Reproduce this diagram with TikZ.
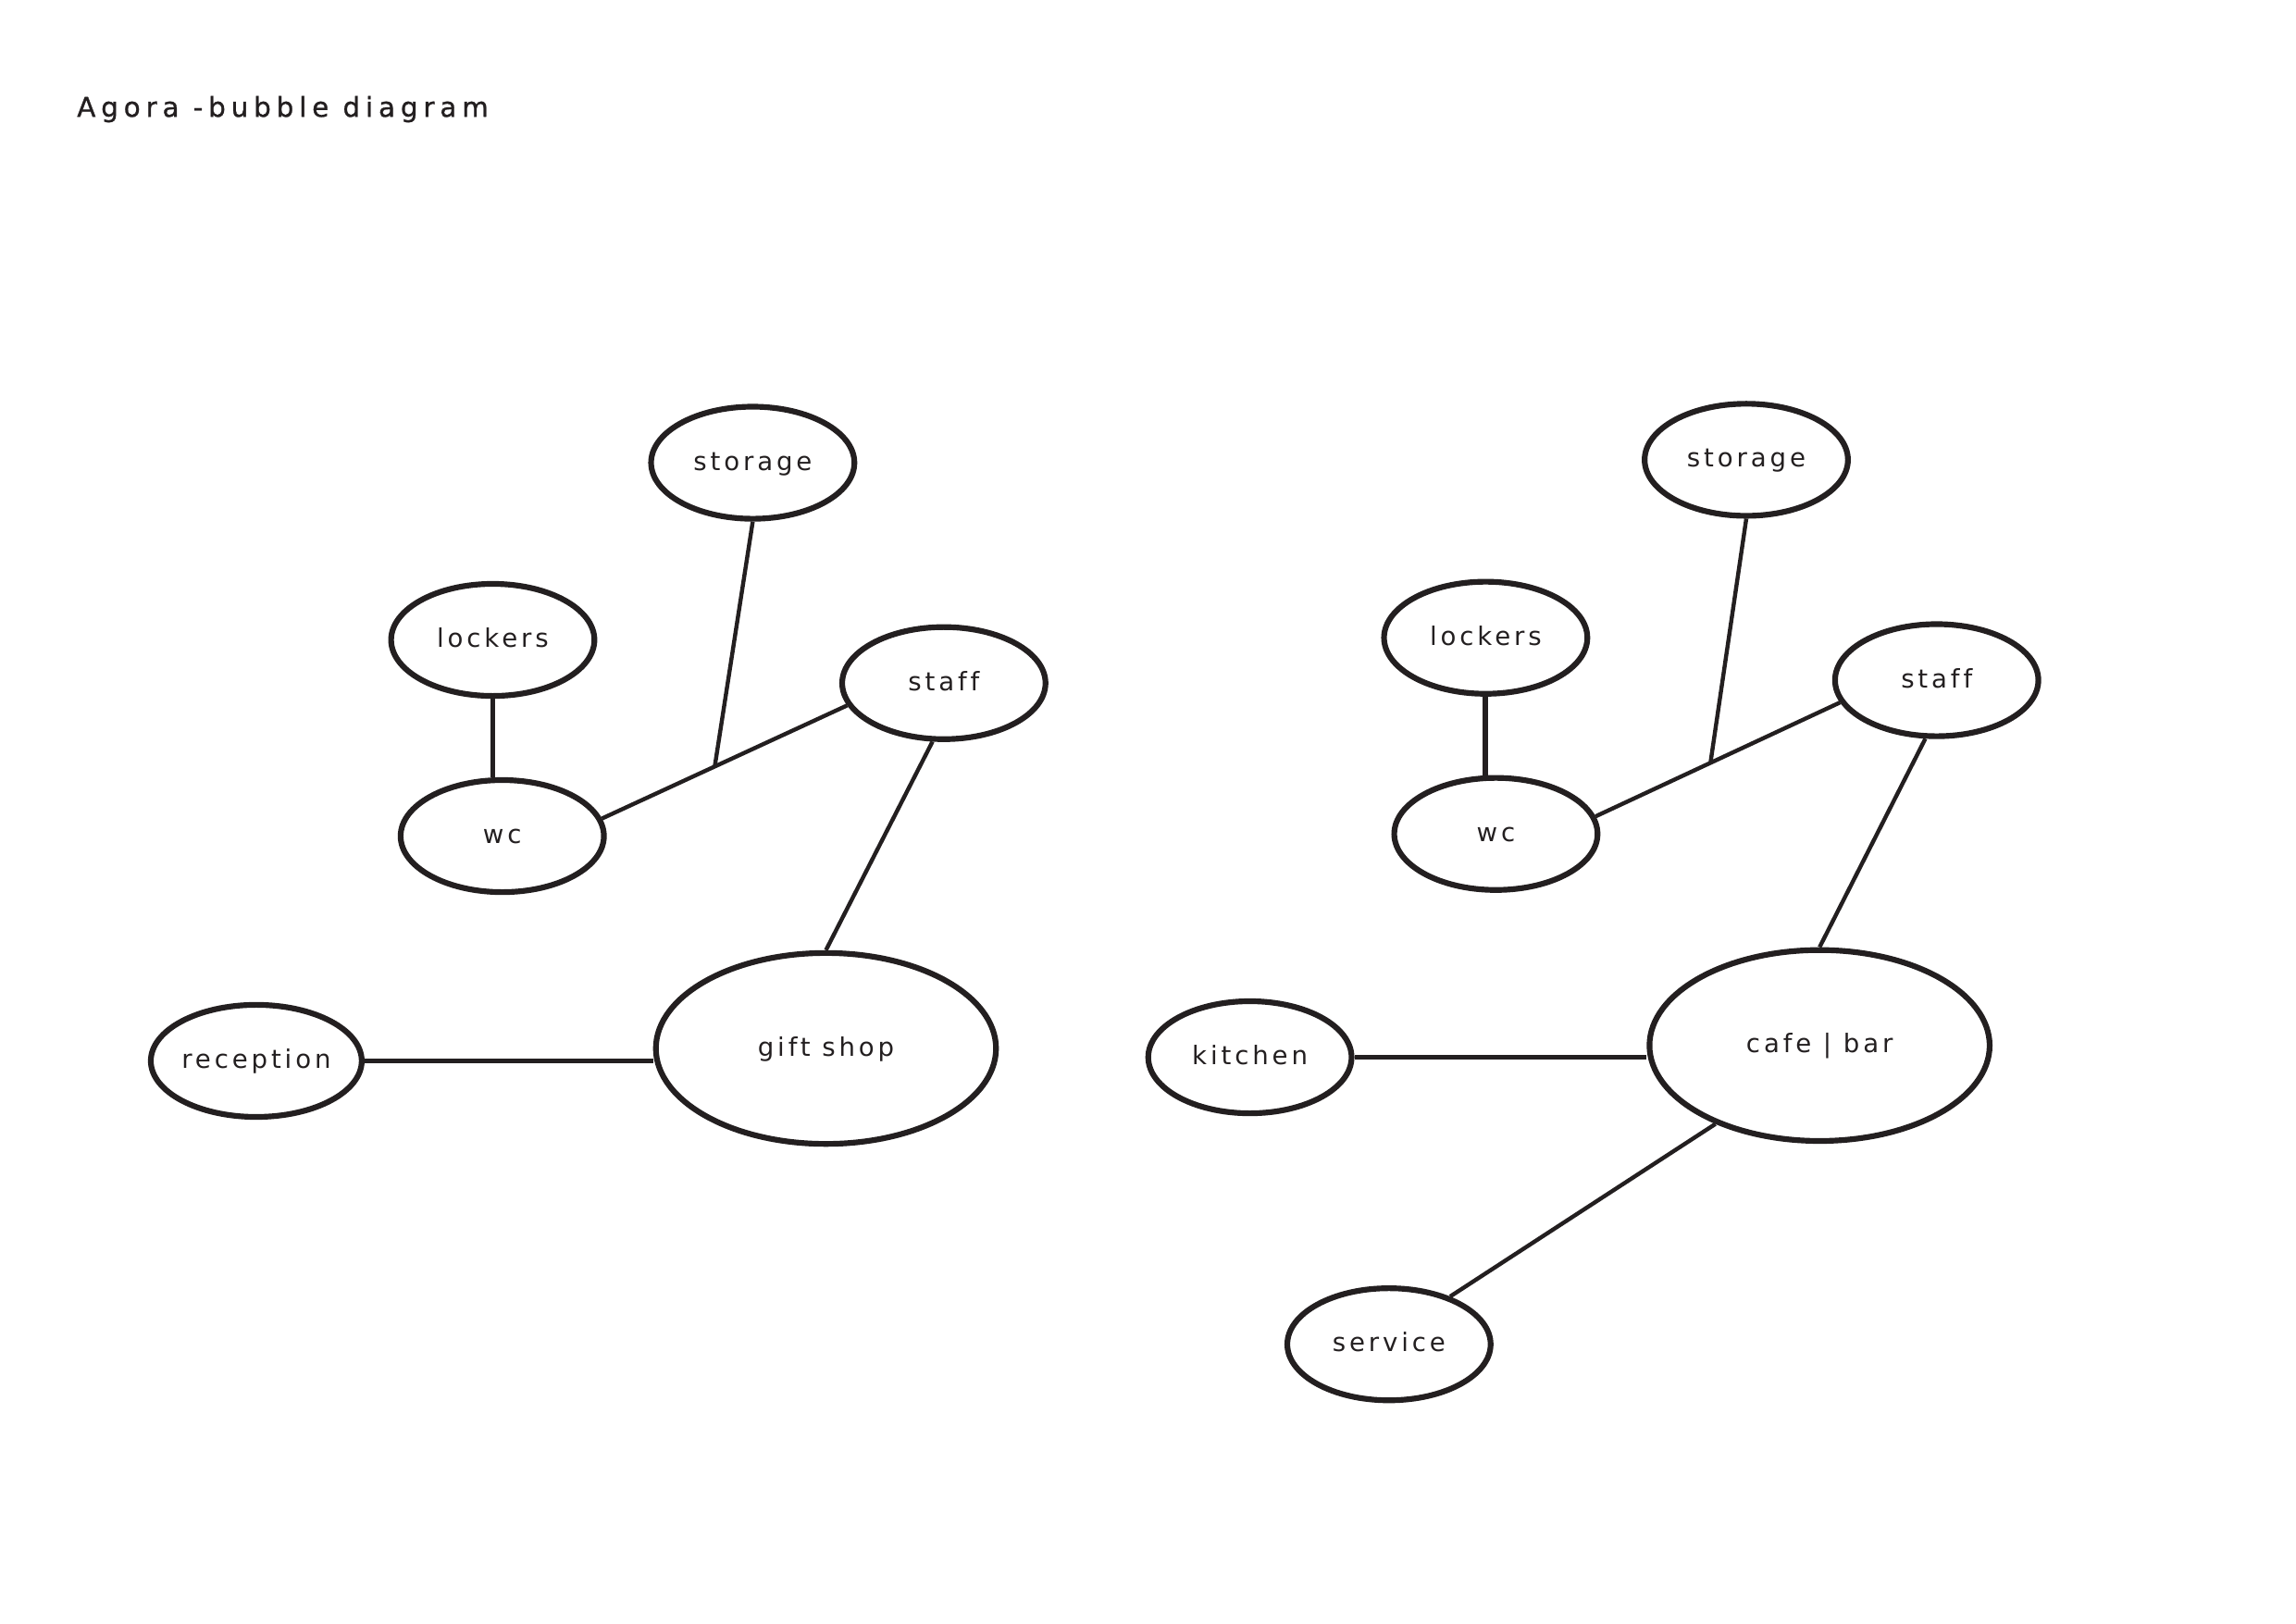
\documentclass[tikz,border=0pt]{standalone}
\usepackage{fontspec}
\usepackage{tikz}
\usetikzlibrary{
    shapes.geometric,
    calc
}
\newfontfamily\bubblefont[LetterSpace=14, Ligatures=NoCommon]{DejaVu Sans}
\newfontfamily\headfont[LetterSpace=20, Ligatures=NoCommon, FakeBold=1]{DejaVu Sans}
\definecolor{Ink}{RGB}{35,31,32}

\begin{document}
\begin{tikzpicture}[
    bubble/.style={ellipse, draw=Ink, line width=2.1pt, inner sep=0pt,
        minimum width=2.63cm, minimum height=1.45cm,
        text height=0.55em, text depth=0pt,
        font=\bubblefont\fontsize{9.4}{11}\selectfont, text=Ink},
    bigbubble/.style={bubble, minimum width=4.40cm, minimum height=2.47cm,
        yshift=-0.05cm},
    link/.style={draw=Ink, line width=1.5pt},
    stem/.style={draw=Ink, line width=2pt}
]

\useasboundingbox (0,0) rectangle (29.7,-21.0);

\node[anchor=base west, inner sep=0pt, text=Ink,
    font=\headfont\fontsize{10}{12}\selectfont]
    (title) at (0.99,-1.51) {Agora -bubble diagram};

\node[bubble] (storageL) at (9.737,-5.986) {storage};
\node[bubble] (lockersL) at (6.374,-8.278) {lockers};
\node[bubble] (staffL) at (12.209,-8.837) {staff};
\node[bubble] (wcL) at (6.497,-10.816) {wc};
\node[bubble] (receptionL) at (3.315,-13.724) {reception};
\node[bigbubble] (giftL) at (10.684,-13.513) {gift shop};

\node[bubble] (storageR) at (22.589,-5.948) {storage};
\node[bubble] (lockersR) at (19.218,-8.250) {lockers};
\node[bubble] (staffR) at (25.052,-8.799) {staff};
\node[bubble] (wcR) at (19.350,-10.788) {wc};
\node[bubble] (kitchenR) at (16.168,-13.677) {kitchen};
\node[bigbubble] (cafeR) at (23.537,-13.475) {cafe | bar};
\node[bubble] (serviceR) at (17.967,-17.390) {service};

\coordinate (jointL) at ($(wcL.10.7)!0.46!(staffL.193.1)$);
\coordinate (jointR) at ($(wcR.10.7)!0.47!(staffR.193.1)$);

\draw[stem] (lockersL.south) -- (lockersL.south |- wcL.north);
\draw[link] (wcL.10.7) -- (staffL.193.1);
\draw[link] (storageL.south) -- (jointL);
\draw[link] (staffL.259) -- (giftL.north);
\draw[link] (receptionL.east) -- (receptionL.east -| giftL.west);

\draw[stem] (lockersR.south) -- (lockersR.south |- wcR.north);
\draw[link] (wcR.10.7) -- (staffR.193.1);
\draw[link] (storageR.south) -- (jointR);
\draw[link] (staffR.259) -- (cafeR.north);
\draw[link] (kitchenR.east) -- (kitchenR.east -| cafeR.west);
\draw[link] (cafeR.217.6) -- (serviceR.38.7);

\end{tikzpicture}
\end{document}
